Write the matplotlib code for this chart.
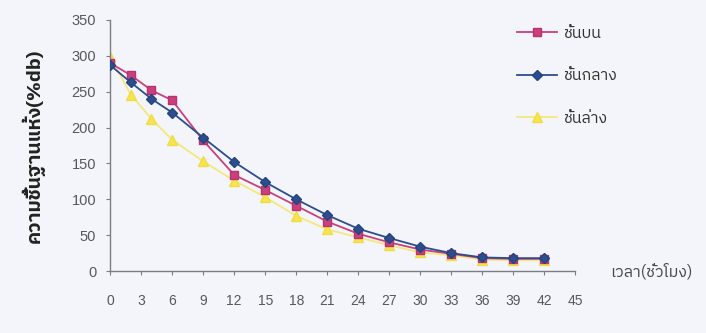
"""
Moisture content (%db) vs drying time for three tray levels
"""

import matplotlib
matplotlib.use("Agg")
import matplotlib.pyplot as plt
from matplotlib import font_manager, ft2font

# Data
hours = [0, 2, 4, 6, 9, 12, 15, 18, 21, 24, 27, 30, 33, 36, 39, 42]
top_tray = [290, 273, 252, 238, 182, 134, 113, 91, 69, 52, 40, 30, 24, 18, 17, 17]
mid_tray = [287, 263, 240, 221, 186, 152, 124, 100, 78, 59, 46, 34, 25, 19, 18, 18]
low_tray = [299, 246, 212, 183, 153, 126, 103, 77, 58, 47, 36, 26, 22, 16, 15, 15]

series_names = ["ชั้นบน", "ชั้นกลาง", "ชั้นล่าง"]
x_ticks = list(range(0, 46, 3))
y_ticks = list(range(0, 351, 50))


def find_thai_font():
    # pick an installed font that has Thai glyphs (prefer one named Thai)
    found = []
    for f in font_manager.fontManager.ttflist:
        try:
            cmap = ft2font.FT2Font(f.fname).get_charmap()
        except Exception:
            continue
        if 0x0E0A in cmap and 0x0E49 in cmap:
            found.append(f.name)
    found.sort(key=lambda n: ("Thai" not in n, "Sans" not in n, n))
    return found[0] if found else None


thai = find_thai_font()
families = ([thai] if thai else []) + ["Liberation Sans", "DejaVu Sans"]

plt.rcParams["font.family"] = ["Liberation Sans", "DejaVu Sans"]
plt.rcParams["font.size"] = 10

bg = "#f3f5fa"
fig = plt.figure(figsize=(7.06, 3.33), dpi=100, facecolor=bg)
ax = fig.add_axes([0.156, 0.186, 0.659, 0.754], facecolor=bg)

ax.plot(hours, top_tray, color="#c9407c", linewidth=1.3, marker="s", markersize=6,
        markeredgecolor="#b8336e", label=series_names[0], zorder=3)
ax.plot(hours, mid_tray, color="#2c4e8c", linewidth=1.3, marker="D", markersize=5,
        markeredgecolor="#244480", label=series_names[1], zorder=4)
ax.plot(hours, low_tray, color="#f4e87c", linewidth=1.3, marker="^", markersize=7,
        markeredgecolor="#f0dc45", markerfacecolor="#f7e54e", label=series_names[2], zorder=2)

ax.set_xlim(0, 45)
ax.set_ylim(0, 350)
ax.set_xticks(x_ticks)
ax.set_yticks(y_ticks)

for side in ["top", "right"]:
    ax.spines[side].set_visible(False)
for side in ["left", "bottom"]:
    ax.spines[side].set_color("#7a7d85")
    ax.spines[side].set_linewidth(1.0)

ax.tick_params(axis="x", direction="out", length=3, pad=13.5, colors="#7a7d85",
               labelcolor="#555860", labelsize=10)
ax.tick_params(axis="y", direction="out", length=3, pad=7, colors="#7a7d85",
               labelcolor="#555860", labelsize=10.5)

ax.set_ylabel("ความชื้นฐานแห้ง(%db)", family=families, fontsize=14,
              fontweight="bold", color="#222222")
ax.yaxis.set_label_coords(-0.14, 0.5)
ax.text(1.075, 0.0, "เวลา(ชั่วโมง)", transform=ax.transAxes, family=families,
        fontsize=11.5, color="#444650", va="center", ha="left")

leg = fig.legend(loc="upper left", bbox_to_anchor=(0.712, 0.968), frameon=False,
                 handlelength=2.5, labelspacing=1.65, handletextpad=0.4,
                 prop={"family": families, "size": 11.5})
for t in leg.get_texts():
    t.set_color("#333333")

plt.savefig("out.png", dpi=100, facecolor=bg)
